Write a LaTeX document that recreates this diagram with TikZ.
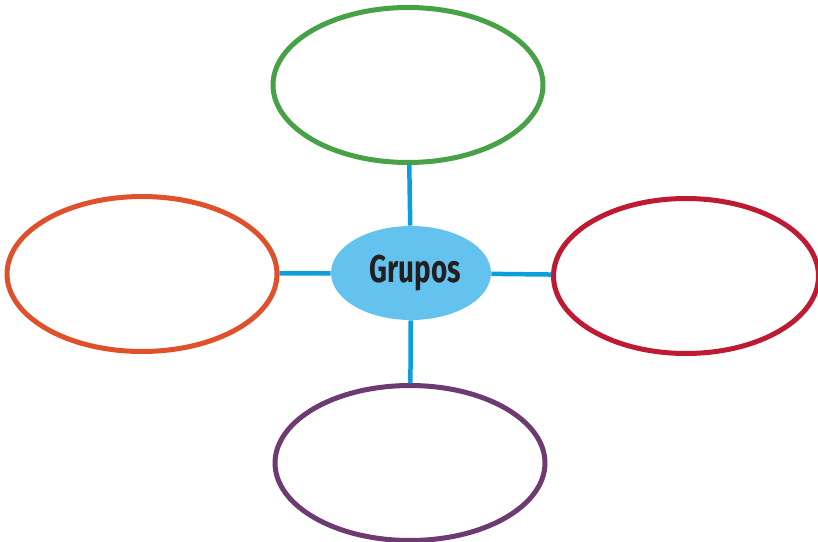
\documentclass[tikz,border=0pt]{standalone}
\usepackage{fontspec}
\newfontfamily\grupofont[FakeStretch=0.72]{Fira Sans}
\usetikzlibrary{shapes.geometric}
\definecolor{verde}{HTML}{46A147}
\definecolor{naranja}{HTML}{E0512B}
\definecolor{rojo}{HTML}{BE1A32}
\definecolor{morado}{HTML}{6E3A72}
\definecolor{celeste}{HTML}{63C3EE}
\definecolor{azul}{HTML}{0AA0DD}
\definecolor{tinta}{HTML}{231F20}
\tikzset{
  globo/.style={ellipse, draw=#1, line width=0.1cm, minimum width=5.4cm, minimum height=3.1cm, inner sep=0pt},
  enlace/.style={draw=azul, line width=0.09cm}
}

\begin{document}
\begin{tikzpicture}[x=0.02cm, y=-0.02cm]
			%%%%% START %%%%%
			\useasboundingbox (0, 0) rectangle (818, 541);
			
			\node[ellipse, fill=celeste, minimum width=3.2cm, minimum height=1.88cm, inner sep=0pt] (grupos) at (411, 273) {\hspace*{0.18cm}\raisebox{-0.05cm}{\grupofont\bfseries\fontsize{22}{24}\selectfont\color{tinta}Grupos}};
			
			\node[globo=verde] (arriba) at (408, 85) {};
			\node[globo=naranja] (izquierda) at (142, 274) {};
			\node[globo=rojo, minimum width=5.3cm] (derecha) at (686, 276) {};
			\node[globo=morado] (abajo) at (410, 463) {};
			
			\draw[enlace] (grupos) -- (arriba);
			\draw[enlace] (grupos) -- (izquierda);
			\draw[enlace] (grupos) -- (derecha);
			\draw[enlace] (grupos) -- (abajo);
			%%%%% END %%%%%
		\end{tikzpicture}
\end{document}
